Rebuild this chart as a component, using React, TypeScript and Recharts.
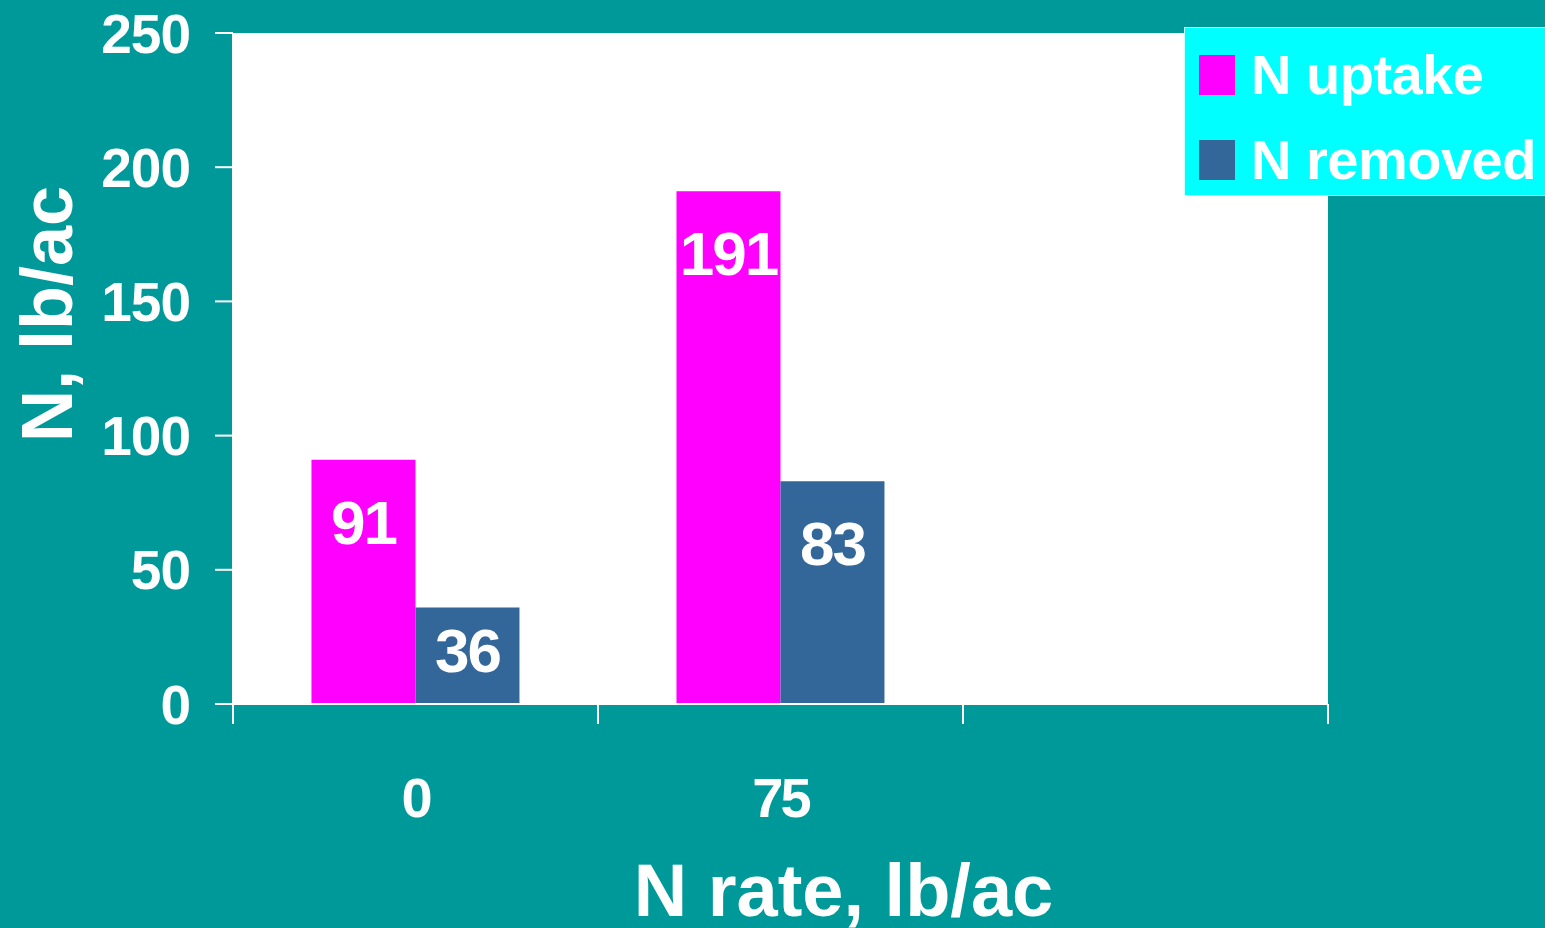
import { BarChart, Bar, XAxis, YAxis, CartesianGrid, Legend, LabelList } from 'recharts';

const rates = ['0', '75', ''];
const nUptake = [91, 191, null];
const nRemoved = [36, 83, null];
const yTicks = [0, 50, 100, 150, 200, 250];

const SERIES = [
  { key: 'uptake', name: 'N uptake', color: '#FF00FF' },
  { key: 'removed', name: 'N removed', color: '#336699' },
];

const FONT = '"Liberation Sans", Arial, sans-serif';
const TEAL = '#009999';

const data = rates.map((rate, i) => ({
  rate,
  uptake: nUptake[i],
  removed: nRemoved[i],
}));

// value label sits near the top of the bar, pulled down a bit for short bars
const renderValueLabel = (props: any) => {
  const { x, y, width, height, value } = props;
  if (value == null) return null;
  const cy = y + Math.min(62, height * 0.44);
  return (
    <text
      x={x + width / 2}
      y={cy + 22}
      textAnchor="middle"
      fill="#fff"
      fontSize={62}
      fontWeight={700}
      letterSpacing={-2}
      fontFamily={FONT}
    >
      {value}
    </text>
  );
};

// Excel-style category tick: marks sit on the band edges, label in the middle
const CategoryTick = (props: any) => {
  const { x, y, payload, index, visibleTicksCount, width } = props;
  const half = payload?.offset || width / visibleTicksCount / 2;
  const last = index === visibleTicksCount - 1;
  return (
    <g>
      <line x1={x - half} x2={x - half} y1={y} y2={y + 20} stroke="#fff" strokeWidth={2} />
      {last && <line x1={x + half} x2={x + half} y1={y} y2={y + 20} stroke="#fff" strokeWidth={2} />}
      <text
        x={x}
        y={y + 113}
        textAnchor="middle"
        fill="#fff"
        fontSize={56}
        fontWeight={700}
        letterSpacing={-3}
        fontFamily={FONT}
      >
        {payload.value}
      </text>
    </g>
  );
};

const renderLegend = () => (
  <div
    style={{
      background: '#00FFFF',
      border: '1px solid #c8ffff',
      width: 380,
      height: 169,
      boxSizing: 'border-box',
      fontFamily: FONT,
      fontWeight: 700,
      color: '#fff',
    }}
  >
    {SERIES.map((s, i) => (
      <div
        key={s.key}
        style={{
          position: 'absolute',
          left: 15,
          top: 28 + i * 85,
          display: 'flex',
          alignItems: 'center',
          whiteSpace: 'nowrap',
        }}
      >
        <div style={{ width: 36, height: 40, background: s.color, marginRight: 16 }} />
        <span style={{ fontSize: 56, letterSpacing: -0.5, lineHeight: '40px' }}>{s.name}</span>
      </div>
    ))}
  </div>
);

const renderYTitle = () => (
  <text
    x={72}
    y={314}
    transform="rotate(-90, 72, 314)"
    textAnchor="middle"
    fill="#fff"
    fontSize={72}
    fontWeight={700}
    fontFamily={FONT}
  >
    N, lb/ac
  </text>
);

export default function App() {
  return (
    <div
      style={{
        position: 'absolute',
        left: 0,
        top: 0,
        width: 1545,
        height: 928,
        background: TEAL,
        overflow: 'hidden',
      }}
    >
      <BarChart
        width={1545}
        height={928}
        data={data}
        margin={{ top: 33, right: 217, bottom: 0, left: 0 }}
        barCategoryGap="21.5%"
        barGap={0}
      >
        <CartesianGrid fill="#ffffff" stroke="none" />
        <XAxis
          dataKey="rate"
          axisLine={{ stroke: '#fff', strokeWidth: 2 }}
          tickLine={false}
          tickSize={0}
          tickMargin={0}
          height={224}
          interval={0}
          tick={<CategoryTick />}
          label={{
            value: 'N rate, lb/ac',
            position: 'insideBottom',
            offset: 12,
            dx: 63,
            fill: '#fff',
            fontSize: 74,
            fontWeight: 700,
            fontFamily: FONT,
          }}
        />
        <YAxis
          domain={[0, 250]}
          ticks={yTicks}
          width={233}
          tickSize={18}
          tickMargin={25}
          axisLine={{ stroke: '#fff', strokeWidth: 2 }}
          tickLine={{ stroke: '#fff', strokeWidth: 2 }}
          tick={{ fill: '#fff', fontSize: 55, fontWeight: 700, fontFamily: FONT, letterSpacing: -1 }}
          label={{ content: renderYTitle }}
        />
        <Legend
          layout="vertical"
          align="center"
          verticalAlign="middle"
          content={renderLegend}
          wrapperStyle={{ left: 1184, top: 27, width: 380, height: 169 }}
        />
        {SERIES.map((s) => (
          <Bar key={s.key} dataKey={s.key} name={s.name} fill={s.color} isAnimationActive={false}>
            <LabelList dataKey={s.key} content={renderValueLabel} />
          </Bar>
        ))}
      </BarChart>
    </div>
  );
}
